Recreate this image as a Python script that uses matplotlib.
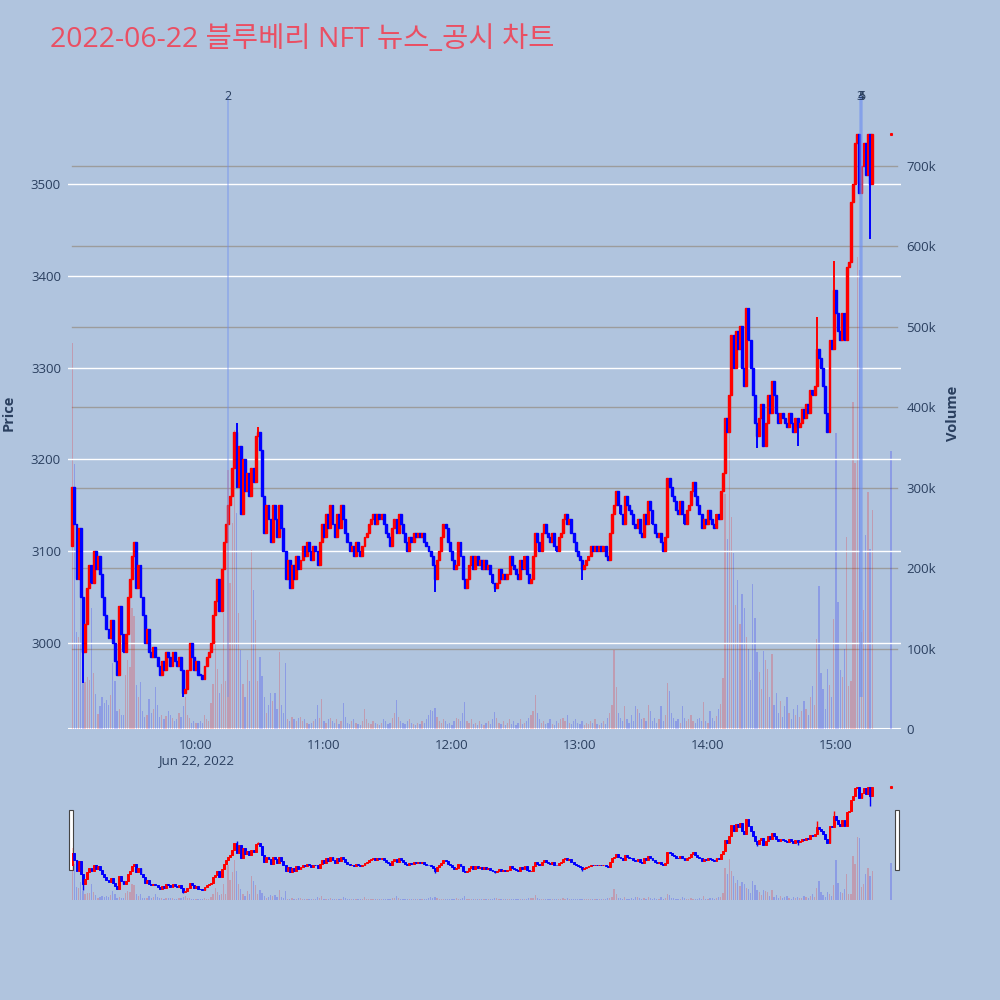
import numpy as np
import matplotlib.pyplot as plt
from matplotlib.patches import Rectangle
import matplotlib.transforms as mtransforms

plt.rcParams['font.family'] = ['Open Sans', 'DejaVu Sans']

title = '2022-06-22 블루베리 NFT 뉴스_공시 차트'

# 1-minute candles, first one at 9:02 (minutes after 9:00 = 2 + index)
first_open = 3105
close = [
    3170, 3130, 3070, 3125, 3050, 2990, 3020, 3060, 3085, 3065,
    3100, 3080, 3095, 3075, 3050, 3030, 3015, 3005, 3025, 3000,
    2980, 2965, 3040, 3010, 2990, 3010, 3050, 3070, 3095, 3110,
    3060, 3085, 3050, 3030, 3000, 3015, 2990, 2985, 2995, 2985,
    2975, 2965, 2980, 2970, 2990, 2985, 2975, 2990, 2980, 2975,
    2985, 2970, 2945, 2950, 2970, 3000, 2985, 2970, 2980, 2965,
    2965, 2960, 2975, 2985, 2990, 3000, 3030,
    3045, 3070, 3035, 3080, 3110, 3130, 3150, 3160, 3190, 3230,
    3170, 3215, 3140, 3200, 3165, 3185, 3160, 3190, 3175, 3225,
    3230, 3210, 3160, 3120, 3150, 3135, 3110, 3150, 3135, 3115,
    3150, 3125, 3100, 3070, 3090, 3060, 3085, 3070, 3095, 3080,
    3090, 3105, 3095, 3110, 3100, 3090, 3105, 3100, 3085, 3110,
    3130, 3115, 3140, 3125, 3150, 3130, 3115, 3140, 3125, 3150,
    3135,
    3120, 3110, 3100, 3105, 3095, 3110, 3100, 3095, 3105, 3115,
    3120, 3130, 3135, 3140, 3130, 3140, 3135, 3140, 3130, 3120,
    3115, 3105, 3125, 3135, 3120, 3140, 3130, 3120, 3110, 3100,
    3115, 3110, 3120, 3115, 3120, 3115, 3120, 3110, 3105, 3100,
    3095, 3085, 3070, 3090, 3100, 3115, 3130, 3125, 3110, 3100,
    3090, 3080, 3085, 3110, 3095, 3070, 3060, 3070, 3085, 3095,
    3080, 3095, 3085,
    3090, 3080, 3090, 3080, 3085, 3075, 3065, 3060, 3065, 3080,
    3070, 3075, 3070, 3075, 3095, 3085, 3080, 3075, 3070, 3090,
    3080, 3095, 3075, 3065, 3070, 3095, 3120, 3110, 3100, 3120,
    3130, 3120, 3115, 3110, 3120, 3105, 3100, 3115, 3120, 3135,
    3140, 3130, 3135, 3120, 3110, 3100, 3095, 3090, 3080, 3085,
    3090, 3095, 3105, 3100, 3105, 3100, 3105, 3100, 3105, 3095,
    3090, 3120, 3140, 3150,
    3165, 3150, 3140, 3130, 3160, 3150, 3145, 3140, 3130, 3125,
    3135, 3120, 3115, 3140, 3130, 3155, 3145, 3130, 3120, 3115,
    3120, 3110, 3100, 3115, 3180, 3170, 3160, 3155, 3145, 3140,
    3155, 3140, 3130, 3145, 3150, 3165, 3175, 3160, 3150, 3140,
    3125, 3135, 3130, 3145, 3135, 3130,
    3125, 3140, 3135, 3165, 3185, 3245, 3230, 3270, 3335, 3300,
    3340, 3320, 3345, 3300, 3280, 3365, 3330, 3300, 3270, 3240,
    3225, 3245, 3260, 3215, 3240, 3270, 3250, 3285, 3270, 3250,
    3240, 3250, 3245, 3240, 3235, 3250, 3240, 3230, 3245, 3235,
    3240, 3255, 3245, 3260, 3250, 3275, 3270, 3280, 3320, 3310,
    3300, 3280, 3250, 3230, 3330, 3320, 3385, 3360, 3340, 3330,
    3360, 3330, 3410, 3415, 3480, 3500, 3545, 3555, 3490, 3520,
    3545, 3510, 3555, 3500, 3555,
]
# volume in thousands of shares
volume_k = [
    480, 330, 120, 114, 167, 86, 59, 65, 61, 150,
    70, 44, 19, 28, 40, 32, 36, 30, 42, 82,
    60, 23, 25, 17, 18, 67, 86, 77, 150, 140,
    55, 40, 58, 23, 15, 18, 37, 20, 25, 52,
    30, 15, 18, 12, 16, 22, 18, 14, 10, 12,
    20, 15, 28, 40, 18, 14, 8, 10, 8, 7,
    10, 8, 18, 12, 10, 32, 56,
    110, 75, 45, 56, 144, 60, 322, 181, 256, 372,
    269, 144, 98, 56, 40, 86, 60, 223, 173, 136,
    60, 90, 66, 40, 20, 30, 45, 35, 45, 25,
    96, 30, 20, 82, 12, 10, 15, 12, 10, 14,
    15, 10, 12, 8, 6, 8, 10, 12, 30, 14,
    37, 10, 8, 12, 14, 10, 8, 12, 6, 10,
    32,
    15, 8, 6, 10, 12, 8, 6, 5, 10, 25,
    12, 8, 6, 10, 8, 6, 5, 8, 12, 10,
    6, 8, 14, 20, 36, 15, 10, 8, 6, 10,
    12, 8, 6, 5, 8, 6, 10, 8, 12, 18,
    24, 22, 26, 15, 10, 8, 12, 10, 6, 8,
    5, 10, 14, 12, 10, 20, 33, 10, 8, 12,
    6, 8, 5,
    10, 6, 5, 8, 10, 6, 12, 21, 14, 8,
    6, 10, 5, 8, 12, 6, 10, 5, 8, 12,
    6, 8, 10, 14, 18, 22, 42, 20, 12, 8,
    10, 6, 8, 12, 6, 5, 10, 8, 12, 14,
    10, 18, 8, 6, 10, 12, 8, 6, 10, 5,
    8, 6, 10, 8, 12, 6, 5, 8, 10, 6,
    14, 20, 30, 98,
    52, 20, 14, 10, 28, 12, 8, 18, 10, 28,
    25, 20, 12, 14, 10, 30, 22, 10, 14, 8,
    12, 28, 10, 18, 57, 47, 20, 14, 10, 12,
    8, 28, 14, 10, 12, 18, 10, 8, 12, 14,
    10, 34, 10, 8, 22, 14,
    10, 16, 25, 31, 63, 292, 236, 378, 264, 219,
    154, 185, 130, 168, 150, 115, 99, 61, 180, 138,
    96, 71, 50, 97, 86, 75, 40, 93, 30, 45,
    20, 35, 15, 28, 40, 20, 12, 25, 18, 30,
    15, 22, 35, 25, 18, 40, 53, 30, 112, 178,
    70, 50, 25, 75, 55, 40, 137, 368, 158, 73,
    65, 100, 239, 54, 60, 407, 331, 587, 571, 120,
    148, 241, 295, 224, 272,
]
wick_high = {77: 3240, 87: 3235, 349: 3355, 357: 3416, 368: 3555}
wick_low = {5: 2956, 52: 2941, 170: 3055, 198: 3055, 239: 3068,
            321: 3212, 340: 3215, 374: 3440}

# closing auction (15:30)
auction_minute = 385.8
auction_price = 3555
auction_volume_k = 346

# news / disclosure markers, minutes after 9:00
news_minutes = [75, 371.4, 371.7, 372.0]
news_labels = ['2', '3', '4', '5']

hour_ticks = [60, 120, 180, 240, 300, 360]
hour_labels = ['10:00\nJun 22, 2022', '11:00', '12:00', '13:00', '14:00', '15:00']
price_ticks = [3000, 3100, 3200, 3300, 3400, 3500]
volume_ticks = [0, 100, 200, 300, 400, 500, 600, 700]
volume_labels = ['0', '100k', '200k', '300k', '400k', '500k', '600k', '700k']

close = np.array(close, dtype=float)
opn = np.r_[first_open, close[:-1]]
high = np.maximum(opn, close)
low = np.minimum(opn, close)
for k, v in wick_high.items():
    high[k] = v
for k, v in wick_low.items():
    low[k] = v
t = 2 + np.arange(len(close))
cols = np.where(close > opn, '#ff0000', '#0000ff')

BG = '#B0C4DE'
PLOT_BG = '#E5ECF6'
TXT = '#2a3f5f'


def draw(axp, axv, wick_w, edge_w, vol_w):
    axv.bar(t, volume_k, width=vol_w, color=cols, alpha=0.2, linewidth=0)
    axv.bar([auction_minute], [auction_volume_k], width=vol_w, color='#0000ff',
            alpha=0.2, linewidth=0)
    axp.vlines(t, low, high, colors=cols, linewidth=wick_w)
    body = np.maximum(np.abs(close - opn), 1.0)
    axp.bar(t, body, bottom=np.minimum(opn, close), width=0.9, color=cols,
            edgecolor=cols, linewidth=edge_w)
    axp.plot([auction_minute], [auction_price], marker='s', ms=1.2,
             color='#ff0000', lw=0)


fig = plt.figure(figsize=(10, 10), dpi=100, facecolor=BG)

# main chart
ax = fig.add_axes([0.068, 0.271, 0.833, 0.633])
axv = ax.twinx()
ax.set_zorder(2)
axv.set_zorder(1)
ax.patch.set_visible(False)
axv.patch.set_facecolor(PLOT_BG)

ax.set_xlim(0, 390.5)
ax.set_ylim(2906, 3596)
axv.set_ylim(0, 787)

for y in price_ticks:
    ax.axhline(y, color='white', lw=1, zorder=0.5)
axv.axhline(0, color='white', lw=1.5, zorder=0.5)
for y in volume_ticks[1:]:
    axv.axhline(y, xmin=4 / 833, xmax=829 / 833, color='#9c9c9c', lw=1, zorder=0.6)

draw(ax, axv, 1.4, 1.0, 0.6)

trans = mtransforms.blended_transform_factory(ax.transData, ax.transAxes)
ax.vlines(news_minutes, low.min(), 3596, color='#6f8ff0', alpha=0.45, lw=1.3, zorder=3)
for m, lab in zip(news_minutes, news_labels):
    ax.text(m, 1.0, lab, transform=trans, ha='center', va='center',
            fontsize=9, color=TXT)

ax.set_xticks(hour_ticks, hour_labels)
ax.set_yticks(price_ticks, [str(p) for p in price_ticks])
axv.set_yticks(volume_ticks, volume_labels)
ax.tick_params(axis='both', length=0, labelsize=9.5, labelcolor=TXT)
ax.tick_params(axis='y', pad=5)
ax.tick_params(axis='x', pad=7)
axv.tick_params(axis='y', length=0, labelsize=9.5, labelcolor=TXT, pad=4)
for a in (ax, axv):
    for s in a.spines.values():
        s.set_visible(False)

fig.text(0.009, 0.587, 'Price', rotation=90, ha='center', va='center',
         fontsize=10.5, fontweight='bold', color=TXT)
fig.text(0.953, 0.587, 'Volume', rotation=90, ha='center', va='center',
         fontsize=10.5, fontweight='bold', color=TXT)

# range slider
sx0, sx1 = 72, 897
sp = fig.add_axes([sx0 / 1000, 0.100, (sx1 - sx0) / 1000, 0.120])
sv = sp.twinx()
sp.set_zorder(2)
sv.set_zorder(1)
sp.patch.set_visible(False)
sv.patch.set_facecolor(PLOT_BG)
sp.set_xlim((sx0 - 68) / 833 * 390.5, (sx1 - 68) / 833 * 390.5)
sp.set_ylim(2900, 3593)
sv.set_ylim(0, 1110)
draw(sp, sv, 1.0, 0.7, 0.6)
for a in (sp, sv):
    a.set_xticks([])
    a.set_yticks([])
    for s in a.spines.values():
        s.set_visible(False)

for x0 in (69, 895):
    fig.add_artist(Rectangle((x0 / 1000, 0.130), 0.004, 0.060,
                             transform=fig.transFigure, facecolor='white',
                             edgecolor='#444444', lw=0.8))

fig.text(0.05, 0.96, title, ha='left', va='center', fontsize=20.5,
         color='#EA4F63', family=['Open Sans', 'Noto Sans CJK KR', 'DejaVu Sans'])

fig.savefig('out.png', dpi=100, facecolor=BG)
